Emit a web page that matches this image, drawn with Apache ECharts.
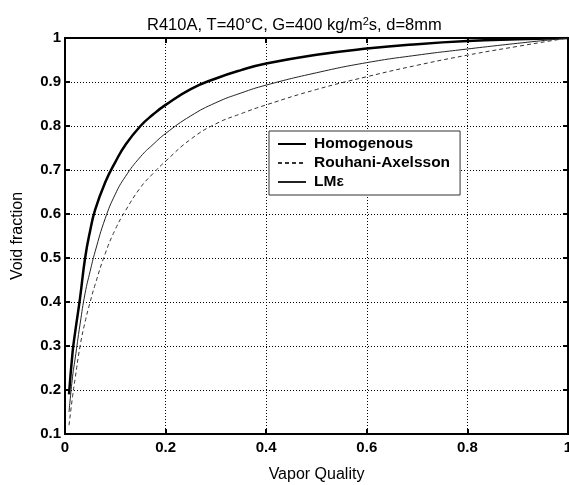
<!DOCTYPE html>
<html>
<head>
<meta charset="utf-8">
<script src="https://cdn.jsdelivr.net/npm/echarts@6/dist/echarts.min.js"></script>
<style>
html,body{margin:0;padding:0;background:#fff;overflow:hidden;}
#c{width:569px;height:485px;}
</style>
</head>
<body>
<div id="c"></div>
<script>
const quality = [0.008, 0.015, 0.02, 0.03, 0.04, 0.05, 0.06, 0.08, 0.1, 0.12, 0.15, 0.175, 0.2, 0.25, 0.3, 0.35, 0.4, 0.5, 0.6, 0.7, 0.8, 0.9, 1.0];
const homogenous = [0.19, 0.285, 0.33, 0.41, 0.50, 0.562, 0.61, 0.672, 0.718, 0.757, 0.80, 0.826, 0.848, 0.884, 0.908, 0.927, 0.942, 0.962, 0.976, 0.986, 0.993, 0.997, 1.0];
const rouhaniAxelsson = [0.12, 0.185, 0.225, 0.30, 0.355, 0.40, 0.44, 0.51, 0.565, 0.607, 0.66, 0.692, 0.72, 0.77, 0.805, 0.828, 0.848, 0.883, 0.912, 0.938, 0.961, 0.981, 1.0];
const lmEpsilon = [0.15, 0.23, 0.27, 0.35, 0.42, 0.47, 0.515, 0.59, 0.645, 0.685, 0.73, 0.758, 0.783, 0.823, 0.853, 0.875, 0.893, 0.921, 0.944, 0.961, 0.975, 0.988, 1.0];
const seriesNames = ['Homogenous', 'Rouhani-Axelsson', 'LM\u03B5'];
const xTicks = [0, 0.2, 0.4, 0.6, 0.8, 1];
const yTicks = [0.1, 0.2, 0.3, 0.4, 0.5, 0.6, 0.7, 0.8, 0.9, 1];

function pairs(xs, ys){ return xs.map((x,i)=>[x, ys[i]]); }

const chart = echarts.init(document.getElementById('c'), null, {renderer:'canvas', width:569, height:485});
const FONT = 'Arial, "Liberation Sans", Helvetica, sans-serif';
const grid = {left:65, top:38, width:503, height:396};

chart.setOption({
  animation:false,
  backgroundColor:'#fff',
  title:{
    text:'R410A, T=40°C, G=400 kg/m{sup|2}s, d=8mm',
    left:142, top:11,
    textStyle:{fontFamily:FONT, fontSize:16.5, fontWeight:'normal', color:'#000',
      rich:{sup:{fontSize:11, verticalAlign:'top', padding:[0,0,8,0], fontFamily:FONT, color:'#000'}}}
  },
  grid: Object.assign({show:true, borderColor:'#000', borderWidth:2, backgroundColor:'transparent',
    containLabel:false, outerBoundsMode:'none'}, grid),
  legend:{
    orient:'vertical', left:269, top:131,
    data: seriesNames,
    backgroundColor:'#fff', borderColor:'#333', borderWidth:1, borderRadius:0,
    padding:[5,10,5,8], itemWidth:28, itemHeight:14, itemGap:3,
    itemStyle:{opacity:0},
    textStyle:{fontFamily:FONT, fontSize:15.5, fontWeight:'bold', color:'#000', padding:[0,0,0,3]}
  },
  xAxis:[{
    type:'value', min:0, max:1, interval:0.2,
    name:'Vapor Quality', nameLocation:'middle', nameGap:33,
    nameTextStyle:{fontFamily:FONT, fontSize:16, color:'#000'},
    axisLine:{show:true, onZero:false, lineStyle:{color:'#000', width:2}},
    axisTick:{show:true, inside:true, length:5, lineStyle:{color:'#000', width:2}},
    axisLabel:{fontFamily:FONT, fontSize:15, fontWeight:'bold', color:'#000', margin:6},
    splitLine:{show:true, lineStyle:{color:'#000', width:1, type:[1,2]}}
  },{
    type:'value', min:0, max:1, interval:0.2, position:'top',
    axisLine:{show:true, onZero:false, lineStyle:{color:'#000', width:2}},
    axisTick:{show:true, inside:true, length:5, lineStyle:{color:'#000', width:2}},
    axisLabel:{show:false}, splitLine:{show:false}
  }],
  yAxis:[{
    type:'value', min:0.1, max:1, interval:0.1,
    name:'Void fraction', nameLocation:'middle', nameGap:39,
    nameTextStyle:{fontFamily:FONT, fontSize:16, color:'#000'},
    axisLine:{show:true, onZero:false, lineStyle:{color:'#000', width:2}},
    axisTick:{show:true, inside:true, length:5, lineStyle:{color:'#000', width:2}},
    axisLabel:{fontFamily:FONT, fontSize:15, fontWeight:'bold', color:'#000', margin:4,
      formatter:v=>String(Math.round(v*10)/10)},
    splitLine:{show:true, lineStyle:{color:'#000', width:1, type:[1,2]}}
  },{
    type:'value', min:0.1, max:1, interval:0.1, position:'right',
    axisLine:{show:true, onZero:false, lineStyle:{color:'#000', width:2}},
    axisTick:{show:true, inside:true, length:5, lineStyle:{color:'#000', width:2}},
    axisLabel:{show:false}, splitLine:{show:false}
  }],
  series:[
    {name:seriesNames[0], type:'line', data:pairs(quality, homogenous), symbol:'none', smooth:0.5,
      lineStyle:{color:'#000', width:2.5}, itemStyle:{color:'#000'}},
    {name:seriesNames[1], type:'line', data:pairs(quality, rouhaniAxelsson), symbol:'none', smooth:0.5,
      lineStyle:{color:'#333', width:1, type:[4,3]}, itemStyle:{color:'#333'}},
    {name:seriesNames[2], type:'line', data:pairs(quality, lmEpsilon), symbol:'none', smooth:0.5,
      lineStyle:{color:'#222', width:1}, itemStyle:{color:'#222'}}
  ]
});
</script>
</body>
</html>
